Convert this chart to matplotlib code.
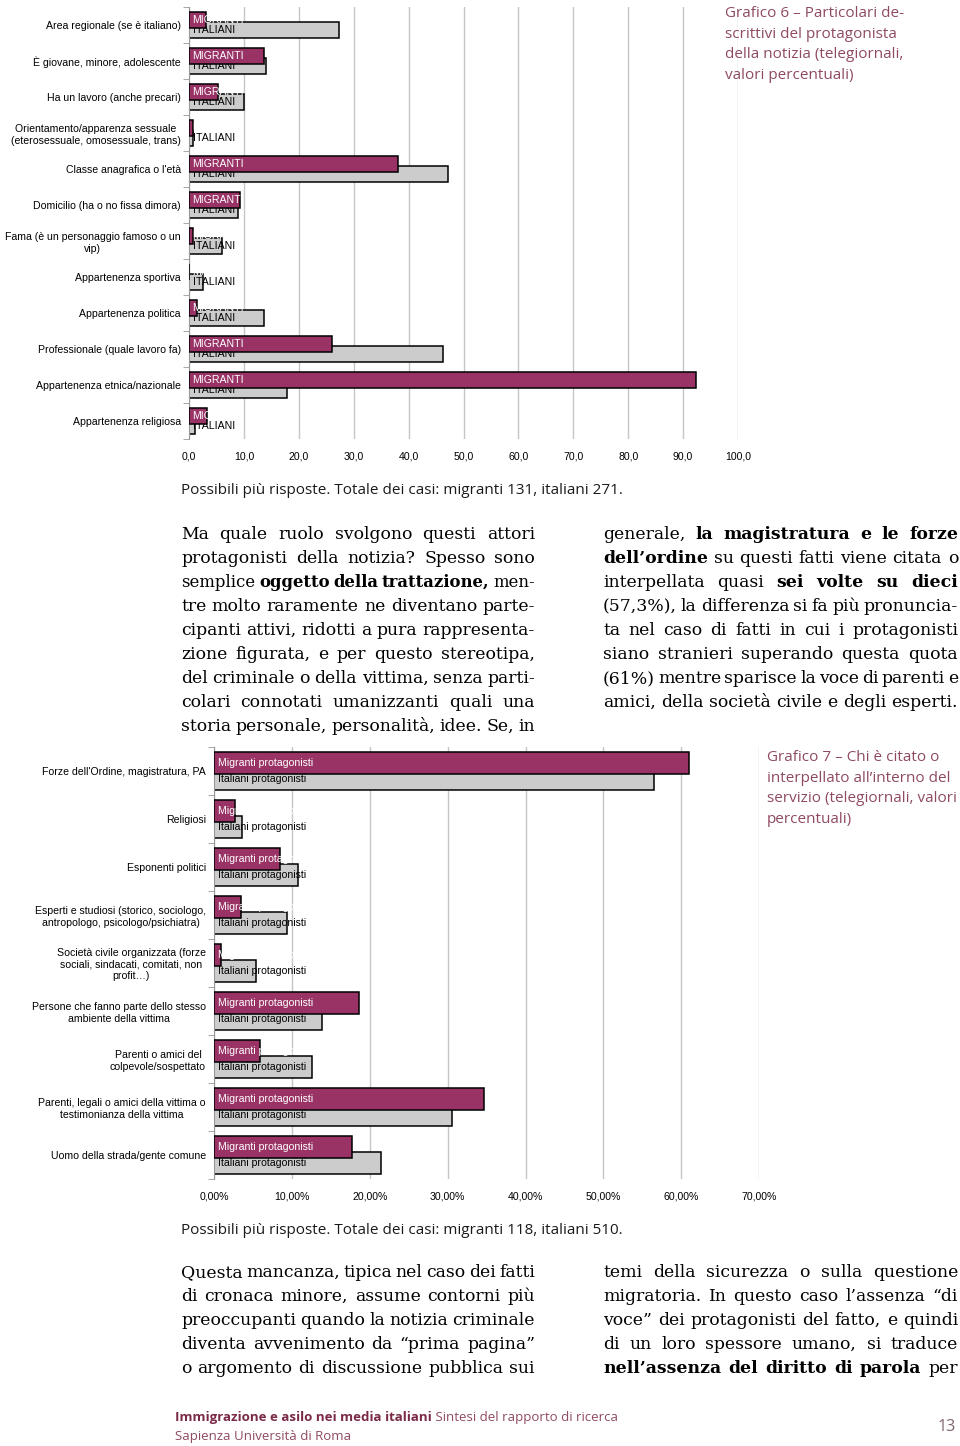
import matplotlib
matplotlib.use('Agg')
import matplotlib.pyplot as plt
import numpy as np

# Grafico 6 - particolari descrittivi del protagonista (valori %)
cat6 = ['Area regionale (se è italiano)', 'È giovane, minore, adolescente',
        'Ha un lavoro (anche precari)',
        'Orientamento/apparenza sessuale\n(eterosessuale, omosessuale, trans)',
        "Classe anagrafica o l'età", 'Domicilio (ha o no fissa dimora)',
        'Fama (è un personaggio famoso o un\nvip)', 'Appartenenza sportiva',
        'Appartenenza politica', 'Professionale (quale lavoro fa)',
        'Appartenenza etnica/nazionale', 'Appartenenza religiosa']
mig6 = [3.1, 13.7, 5.3, 0.8, 38.1, 9.2, 0.7, 0.0, 1.5, 26.0, 92.3, 3.2]
ita6 = [27.3, 14.0, 10.0, 0.7, 47.2, 8.9, 6.0, 2.6, 13.7, 46.2, 17.8, 1.1]
ticks6 = ['0,0', '10,0', '20,0', '30,0', '40,0', '50,0', '60,0', '70,0', '80,0', '90,0', '100,0']

# Grafico 7 - chi è citato o interpellato (valori %)
cat7 = ["Forze dell'Ordine, magistratura, PA", 'Religiosi', 'Esponenti politici',
        'Esperti e studiosi (storico, sociologo,\nantropologo, psicologo/psichiatra)',
        'Società civile organizzata (forze\nsociali, sindacati, comitati, non\nprofit…)',
        'Persone che fanno parte dello stesso\nambiente della vittima',
        'Parenti o amici del\ncolpevole/sospettato',
        'Parenti, legali o amici della vittima o\ntestimonianza della vittima',
        'Uomo della strada/gente comune']
mig7 = [61.0, 2.6, 8.5, 3.4, 0.8, 18.6, 5.9, 34.7, 17.7]
ita7 = [56.5, 3.5, 10.8, 9.4, 5.3, 13.9, 12.5, 30.6, 21.4]
ticks7 = ['0,00%', '10,00%', '20,00%', '30,00%', '40,00%', '50,00%', '60,00%', '70,00%']

title6 = ['Grafico 6 – Particolari de-', 'scrittivi del protagonista',
          'della notizia (telegiornali,', 'valori percentuali)']
title7 = ['Grafico 7 – Chi è citato o', 'interpellato all’interno del',
          'servizio (telegiornali, valori', 'percentuali)']
note6 = 'Possibili più risposte. Totale dei casi: migranti 131, italiani 271.'
note7 = 'Possibili più risposte. Totale dei casi: migranti 118, italiani 510.'

# testo: *...* = grassetto
col1a = ['Ma quale ruolo svolgono questi attori',
         'protagonisti della notizia? Spesso sono',
         'semplice *oggetto della trattazione,* men-',
         'tre molto raramente ne diventano parte-',
         'cipanti attivi, ridotti a pura rappresenta-',
         'zione figurata, e per questo stereotipa,',
         'del criminale o della vittima, senza parti-',
         'colari connotati umanizzanti quali una',
         'storia personale, personalità, idee. Se, in']
col2a = ['generale, *la magistratura e le forze*',
         '*dell’ordine* su questi fatti viene citata o',
         'interpellata quasi *sei volte su dieci*',
         '(57,3%), la differenza si fa più pronuncia-',
         'ta nel caso di fatti in cui i protagonisti',
         'siano stranieri superando questa quota',
         '(61%) mentre sparisce la voce di parenti e',
         'amici, della società civile e degli esperti.']
col1b = ['Questa mancanza, tipica nel caso dei fatti',
         'di cronaca minore, assume contorni più',
         'preoccupanti quando la notizia criminale',
         'diventa avvenimento da “prima pagina”',
         'o argomento di discussione pubblica sui']
col2b = ['temi della sicurezza o sulla questione',
         'migratoria. In questo caso l’assenza “di',
         'voce” dei protagonisti del fatto, e quindi',
         'di un loro spessore umano, si traduce',
         '*nell’assenza del diritto di parola* per']

PLUM = '#993366'
GREY = '#cccccc'
MAROON = '#8e4a62'
SANS = 'Liberation Sans'
SERIF = 'DejaVu Serif'
LIGHT = 'Open Sans'

W, H = 960, 1446
fig = plt.figure(figsize=(W / 100, H / 100), dpi=100)
fig.patch.set_facecolor('white')
r = fig.canvas.get_renderer()


def px(x, y):
    return x / W, 1 - y / H


def chart(rect, cats, mig, ita, ticks, xmax, step, mlab, ilab, h, off):
    ax = fig.add_axes(rect)
    y = np.arange(len(cats))
    ax.barh(y + off, ita, height=h, color=GREY, edgecolor='black', lw=1.1, zorder=2)
    for yi in y:
        ax.annotate(ilab, (0, yi + off), xytext=(2.6, 0), textcoords='offset points',
                    va='center', fontsize=7.6, family=SANS, color='black', zorder=3)
    ax.barh(y - off, mig, height=h, color=PLUM, edgecolor='black', lw=1.1, zorder=4)
    for yi in y:
        ax.annotate(mlab, (0, yi - off), xytext=(2.6, 0), textcoords='offset points',
                    va='center', fontsize=7.6, family=SANS, color='white', zorder=5)
    ax.set_xlim(0, xmax)
    ax.set_ylim(len(cats) - 0.5, -0.5)
    ax.set_xticks(np.arange(0, xmax + 1, step))
    ax.set_xticklabels(ticks, fontsize=7.6, family=SANS)
    ax.xaxis.grid(True, color='#c6c6c6', lw=1)
    ax.set_axisbelow(True)
    ax.tick_params(axis='x', length=0, pad=9)
    ax.set_yticks(y)
    ax.set_yticklabels(cats, fontsize=7.6, family=SANS, multialignment='center')
    ax.set_yticks(np.arange(len(cats) + 1) - 0.5, minor=True)
    ax.tick_params(axis='y', which='major', length=0, pad=6)
    ax.tick_params(axis='y', which='minor', length=4, color='#999999')
    for s in ['top', 'right', 'bottom']:
        ax.spines[s].set_visible(False)
    ax.spines['left'].set_color('#999999')
    return ax


chart([189 / W, 1 - 439 / H, 549 / W, 432 / H], cat6, mig6, ita6, ticks6, 100, 10,
      'MIGRANTI', 'ITALIANI', 0.46, 0.135)
chart([214.3 / W, 1 - 1179 / H, 544.7 / W, 432 / H], cat7, mig7, ita7, ticks7, 70, 10,
      'Migranti protagonisti', 'Italiani protagonisti', 0.46, 0.16)


def justify(x0, x1, y, line, size=12.4):
    words = []
    for k, part in enumerate(line.split('*')):
        for w in part.split():
            words.append((w, k % 2 == 1))
    ts = [fig.text(0, 0, w, fontsize=size, family=SERIF, color='black',
                   weight='bold' if b else 'normal', va='baseline') for w, b in words]
    ws = [t.get_window_extent(r).width for t in ts]
    need = sum(ws) + 3.0 * (len(ws) - 1)
    if need > x1 - x0:
        k = (x1 - x0 - 3.0 * (len(ws) - 1)) / sum(ws)
        for t in ts:
            t.set_fontsize(size * k)
        ws = [t.get_window_extent(r).width for t in ts]
    gap = (x1 - x0 - sum(ws)) / (len(ws) - 1)
    x = x0
    for t, w in zip(ts, ws):
        t.set_position(px(x, y))
        x += w + gap


for i, line in enumerate(col1a):
    justify(181, 535, 539 + 24 * i, line)
for i, line in enumerate(col2a):
    justify(603, 958, 539 + 24 * i, line)
for i, line in enumerate(col1b):
    justify(181, 535, 1277 + 24 * i, line)
for i, line in enumerate(col2b):
    justify(603, 958, 1277 + 24 * i, line)

for i, line in enumerate(title6):
    fig.text(*px(725, 17 + 20.7 * i), line, fontsize=11, family=LIGHT,
             color=MAROON, va='baseline')
for i, line in enumerate(title7):
    fig.text(*px(767, 761 + 20.7 * i), line, fontsize=11, family=LIGHT,
             color=MAROON, va='baseline')

fig.text(*px(181, 494), note6, fontsize=11, family=LIGHT, color='#1a1a1a', va='baseline')
fig.text(*px(181, 1234), note7, fontsize=11, family=LIGHT, color='#1a1a1a', va='baseline')

# piè di pagina
t = fig.text(*px(175, 1421), 'Immigrazione e asilo nei media italiani', fontsize=9.5,
             family=LIGHT, weight='bold', color='#7a2a48', va='baseline')
wb = t.get_window_extent(r).width
fig.text(*px(175 + wb, 1421), ' Sintesi del rapporto di ricerca', fontsize=9.5,
         family=LIGHT, color=MAROON, va='baseline')
fig.text(*px(175, 1440), 'Sapienza Università di Roma', fontsize=9.5, family=LIGHT,
         color=MAROON, va='baseline')
fig.text(*px(956, 1431), '13', fontsize=11.5, family=LIGHT, color='#7f6670',
         ha='right', va='baseline')

fig.savefig('out.png', dpi=100, facecolor='white')
